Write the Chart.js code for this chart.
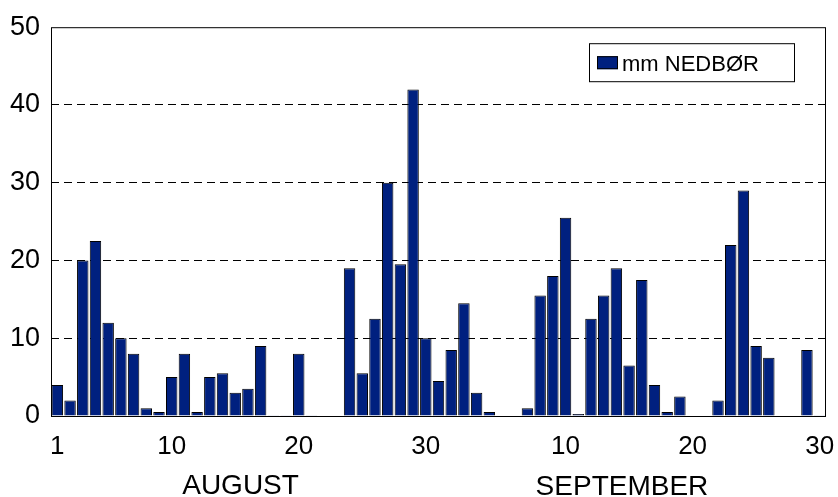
<!DOCTYPE html>
<html>
<head>
<meta charset="utf-8">
<script src="https://cdn.jsdelivr.net/npm/chart.js@4"></script>
<style>
  html, body { margin: 0; padding: 0; background: #fff; }
  #wrap { width: 838px; height: 497px; }
</style>
</head>
<body>
<div id="wrap"><canvas id="rainChart" width="838" height="497"></canvas></div>
<script>
// dagsnedbør, mm
const augDays = Array.from({ length: 31 }, (_, i) => String(i + 1));
const sepDays = Array.from({ length: 30 }, (_, i) => String(i + 1));
const augRain = [4, 2, 20, 22.5, 12, 10, 8, 1, 0.5, 5, 8, 0.5, 5, 5.5, 3, 3.5, 9, 0.1, 0.1, 8,
                 0.1, 0, 0, 19, 5.5, 12.5, 30, 19.5, 42, 10, 4.5];
const sepRain = [8.5, 14.5, 3, 0.5, 0, 0, 1, 15.5, 18, 25.5, 0.25, 12.5, 15.5, 19, 6.5, 17.5, 4, 0.5, 2.5, 0,
                 0, 2, 22, 29, 9, 7.5, 0, 0, 8.5, 0.1];
const months = ['AUGUST', 'SEPTEMBER'];
const yTicks = [0, 10, 20, 30, 40, 50];
const seriesName = 'mm NEDBØR';

const FONT = "'Liberation Sans', Arial, Helvetica, sans-serif";
const BAR = '#00207f';

// ramme, legend og månedsnavn
const extras = {
    id: 'extras',
    afterDraw(chart) {
        const { ctx, chartArea: a, scales: { x } } = chart;
        ctx.save();
        ctx.strokeStyle = '#000';
        ctx.lineWidth = 1;
        ctx.strokeRect(a.left + 0.5, a.top + 0.5, a.right - a.left - 1, a.bottom - a.top);

        // legend
        const bx = a.right - 237, by = a.top + 16, bw = 205, bh = 38;
        ctx.fillStyle = '#fff';
        ctx.fillRect(bx, by, bw, bh);
        ctx.strokeRect(bx + 0.5, by + 0.5, bw, bh);
        ctx.fillStyle = BAR;
        ctx.fillRect(bx + 8, by + 13, 21, 13);
        ctx.strokeRect(bx + 8.5, by + 13.5, 20, 12);
        ctx.fillStyle = '#000';
        ctx.font = '22px ' + FONT;
        ctx.textBaseline = 'alphabetic';
        ctx.textAlign = 'left';
        ctx.fillText(chart.data.datasets[0].label, bx + 33, by + 28);

        // måneder
        ctx.font = '28px ' + FONT;
        ctx.textAlign = 'center';
        ctx.fillText(months[0], x.getPixelForValue(14.42), chart.height - 3);
        ctx.fillText(months[1], x.getPixelForValue(44.44), chart.height - 2);
        ctx.restore();
    }
};

const labels = augDays.concat(sepDays);

new Chart(document.getElementById('rainChart'), {
    type: 'bar',
    data: {
        labels: labels,
        datasets: [{
            label: seriesName,
            data: augRain.concat(sepRain),
            backgroundColor: BAR,
            borderColor: '#000',
            borderWidth: 1,
            borderSkipped: 'start',
            categoryPercentage: 0.9,
            barPercentage: 1.0
        }]
    },
    options: {
        responsive: false,
        animation: false,
        devicePixelRatio: 1,
        layout: { padding: { top: 24, right: 12, left: 0, bottom: 0 } },
        plugins: {
            legend: { display: false },
            tooltip: { enabled: false }
        },
        scales: {
            x: {
                grid: { display: false },
                border: { display: false },
                ticks: {
                    autoSkip: false,
                    maxRotation: 0,
                    padding: 7,
                    color: '#000',
                    font: { family: FONT, size: 26 },
                    callback: function(val, idx) {
                        const d = Number(labels[idx]);
                        if (idx === 0 || d % 10 === 0) return labels[idx];
                        return '';
                    }
                },
                afterFit: function(scale) {
                    scale.height = 81;
                    scale.paddingLeft = 0;
                    scale.paddingRight = 0;
                }
            },
            y: {
                min: 0,
                max: 50,
                afterBuildTicks: function(scale) {
                    scale.ticks = yTicks.map(v => ({ value: v }));
                },
                grid: {
                    drawTicks: false,
                    color: ctx => (ctx.tick && (ctx.tick.value === 0 || ctx.tick.value === 50)) ? 'rgba(0,0,0,0)' : '#000',
                    lineWidth: 1
                },
                border: { display: false, dash: [8, 5] },
                ticks: {
                    padding: 11,
                    color: '#000',
                    font: { family: FONT, size: 27 }
                },
                afterFit: function(scale) { scale.width = 51; }
            }
        }
    },
    plugins: [extras]
});
</script>
</body>
</html>
